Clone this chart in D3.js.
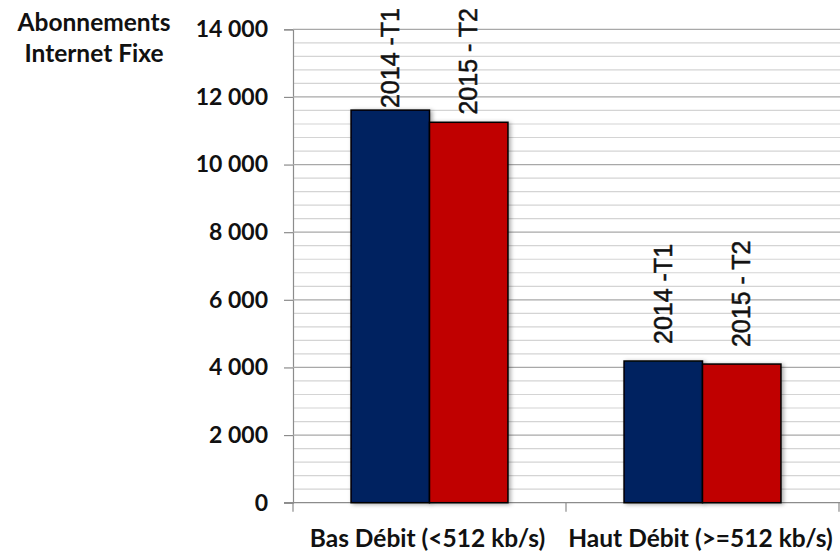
<!DOCTYPE html>
<html>
<head>
<meta charset="utf-8">
<script src="https://cdn.jsdelivr.net/npm/d3@7"></script>
<style>
  body { margin: 0; background: #fff; }
  svg { display: block; }
</style>
</head>
<body>
<div id="chart"></div>
<script>
// Chart data
const categories = ["Bas Débit (<512 kb/s)", "Haut Débit (>=512 kb/s)"];
const periods = ["2014 -T1", "2015 - T2"];
const values2014T1 = [11610, 4190];
const values2015T2 = [11250, 4100];
const yTickValues = [0, 2000, 4000, 6000, 8000, 10000, 12000, 14000];
const titleLines = ["Abonnements", "Internet Fixe"];

const width = 840, height = 555;
const plot = { left: 293, right: 839, top: 29.3, bottom: 502.7 };

const colors = { "2014 -T1": "#002060", "2015 - T2": "#C00000" };

const svg = d3.select("#chart")
    .append("svg")
    .attr("width", width)
    .attr("height", height);

// soft shadow behind bars
const defs = svg.append("defs");
defs.append("filter")
    .attr("id", "shadow")
    .attr("x", "-10%").attr("y", "-10%")
    .attr("width", "130%").attr("height", "130%")
    .append("feDropShadow")
    .attr("dx", 2).attr("dy", 1)
    .attr("stdDeviation", 2)
    .attr("flood-color", "#000")
    .attr("flood-opacity", 0.35);

// Scales
const y = d3.scaleLinear()
    .domain([0, 14000])
    .range([plot.bottom, plot.top]);

const x0 = d3.scaleBand()
    .domain(categories)
    .range([plot.left, plot.right])
    .paddingInner(0)
    .paddingOuter(0);

const x1 = d3.scaleBand()
    .domain(periods)
    .range([0, x0.bandwidth()])
    .paddingInner(0)
    .paddingOuter(0.74);

const fr = d3.formatLocale({ decimal: ",", thousands: " ", grouping: [3], currency: ["", ""] });
const fmt = fr.format(",");

const boldFont = "Lato, 'Open Sans', sans-serif";

// Minor gridlines (every 400)
svg.append("g")
    .selectAll("line")
    .data(d3.range(400, 14001, 400).filter(v => v % 2000 !== 0))
    .enter().append("line")
    .attr("x1", plot.left).attr("x2", plot.right + 1)
    .attr("y1", d => y(d)).attr("y2", d => y(d))
    .attr("stroke", "#d4d4d4")
    .attr("stroke-width", 1.2);

// Major gridlines + y axis ticks
const yAxis = svg.append("g")
    .attr("transform", `translate(${plot.left},0)`)
    .call(d3.axisLeft(y).tickValues(yTickValues).tickSize(9).tickPadding(16).tickFormat(fmt));
yAxis.select(".domain").attr("stroke", "#8c8c8c").attr("stroke-width", 1.2);
yAxis.selectAll(".tick line").attr("stroke", "#8c8c8c").attr("stroke-width", 1.2);
yAxis.selectAll(".tick text")
    .attr("font-family", boldFont)
    .attr("font-weight", "bold")
    .attr("font-size", 23)
    .attr("fill", "#111");

svg.append("g")
    .selectAll("line")
    .data(yTickValues.filter(v => v > 0))
    .enter().append("line")
    .attr("x1", plot.left).attr("x2", plot.right + 1)
    .attr("y1", d => y(d)).attr("y2", d => y(d))
    .attr("stroke", "#a8a8a8")
    .attr("stroke-width", 1.3);

// Category axis
const xAxis = svg.append("g")
    .attr("transform", `translate(0,${plot.bottom})`);
xAxis.append("line")
    .attr("x1", plot.left - 9).attr("x2", plot.right + 1)
    .attr("y1", 0).attr("y2", 0)
    .attr("stroke", "#8c8c8c").attr("stroke-width", 1.3);
xAxis.selectAll(".ctick")
    .data([plot.left, ...categories.map(c => x0(c) + x0.bandwidth())])
    .enter().append("line")
    .attr("class", "ctick")
    .attr("x1", d => d).attr("x2", d => d)
    .attr("y1", 0).attr("y2", 9)
    .attr("stroke", "#8c8c8c").attr("stroke-width", 1.2);
xAxis.selectAll(".clabel")
    .data(categories)
    .enter().append("text")
    .attr("class", "clabel")
    .attr("x", d => x0(d) + x0.bandwidth() / 2 - 2)
    .attr("y", 44)
    .attr("text-anchor", "middle")
    .attr("font-family", boldFont)
    .attr("font-weight", "bold")
    .attr("font-size", 24.5)
    .attr("fill", "#111")
    .text(d => d);

// Bars
const barData = [];
categories.forEach((c, i) => {
    barData.push({ cat: c, period: periods[0], value: values2014T1[i] });
    barData.push({ cat: c, period: periods[1], value: values2015T2[i] });
});

svg.append("g")
    .selectAll("rect")
    .data(barData)
    .enter().append("rect")
    .attr("x", d => x0(d.cat) + x1(d.period))
    .attr("y", d => y(d.value))
    .attr("width", x1.bandwidth())
    .attr("height", d => y(0) - y(d.value))
    .attr("fill", d => colors[d.period])
    .attr("stroke", "#000")
    .attr("stroke-width", 1.5)
    .attr("filter", "url(#shadow)");

// Rotated value labels above bars
const labels = svg.append("g")
    .selectAll("text")
    .data(barData)
    .enter().append("text")
    .attr("font-family", "'Liberation Sans', Arial, sans-serif")
    .attr("font-size", 25)
    .attr("fill", "#111")
    .attr("stroke", "#111")
    .attr("stroke-width", 0.5)
    .attr("text-anchor", "start")
    .attr("dy", "0.35em")
    .text(d => d.period);

labels.each(function (d) {
    const len = this.getComputedTextLength();
    const cx = x0(d.cat) + x1(d.period) + x1.bandwidth() / 2;
    const ly = Math.max(y(d.value) - 17, 8 + len);
    d3.select(this).attr("transform", `translate(${cx},${ly}) rotate(-90)`);
});

// Y axis title
svg.append("g")
    .selectAll("text")
    .data(titleLines)
    .enter().append("text")
    .attr("x", 94)
    .attr("y", (d, i) => 31 + i * 31)
    .attr("text-anchor", "middle")
    .attr("font-family", boldFont)
    .attr("font-weight", "bold")
    .attr("font-size", 24.5)
    .attr("fill", "#111")
    .text(d => d);
</script>
</body>
</html>
